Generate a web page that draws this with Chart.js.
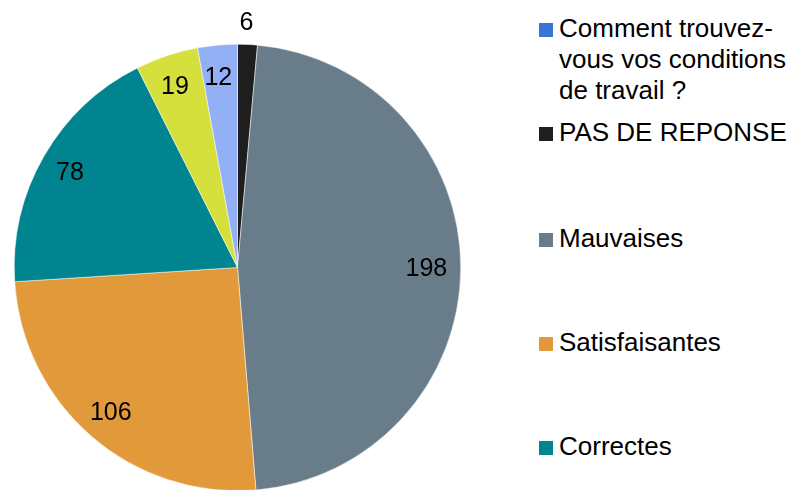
<!DOCTYPE html>
<html>
<head>
<meta charset="utf-8">
<script src="https://cdn.jsdelivr.net/npm/chart.js@4"></script>
<style>
  html, body { margin: 0; padding: 0; background: #fff; }
  body { width: 798px; height: 490px; overflow: hidden; position: relative; font-family: "Liberation Sans", Arial, sans-serif; }
  #wrap { position: absolute; left: 0; top: 0; width: 475px; height: 491px; }
  #legend { position: absolute; left: 0; top: 0; }
  .item { position: absolute; left: 559px; width: 235px; font-size: 26px; line-height: 31px; color: #000; }
  .box { position: absolute; left: -20px; width: 14px; height: 14px; }
</style>
</head>
<body>
<div id="wrap"><canvas id="graph"></canvas></div>
<div id="legend"></div>
<script>
// categories, clockwise from the top
const labels = [
    "Comment trouvez-vous vos conditions de travail ?",
    "PAS DE REPONSE",
    "Mauvaises",
    "Satisfaisantes",
    "Correctes",
    "Bonnes",
    "Très bonnes"
];
const values = [0, 6, 198, 106, 78, 19, 12];
const colors = ["#3b74d8", "#1e1e1e", "#687d89", "#e2993a", "#00848f", "#d5e03c", "#93aff5"];

// legend text lines and where each entry sits (only the ones visible)
const legendLines = [
    ["Comment trouvez-", "vous vos conditions", "de travail ?"],
    ["PAS DE REPONSE"],
    ["Mauvaises"],
    ["Satisfaisantes"],
    ["Correctes"]
];
const legendTops = [13, 117, 223, 327, 431];

// draws the value of each slice, like excel "best fit"
const sliceLabels = {
    id: "sliceLabels",
    afterDatasetsDraw(chart) {
        const ctx = chart.ctx;
        const data = chart.data.datasets[0].data;
        const total = data.reduce((a, b) => a + b, 0);
        ctx.save();
        ctx.font = "25px 'Liberation Sans', Arial, sans-serif";
        ctx.fillStyle = "#000";
        ctx.textAlign = "center";
        ctx.textBaseline = "middle";
        chart.getDatasetMeta(0).data.forEach((arc, i) => {
            if (!data[i]) return;
            const p = arc.getProps(["x", "y", "startAngle", "endAngle", "outerRadius"], true);
            const mid = (p.startAngle + p.endAngle) / 2;
            const f = data[i] / total < 0.02 ? 1.10 : 0.855;
            ctx.fillText(String(data[i]), p.x + Math.cos(mid) * p.outerRadius * f - 2, p.y + Math.sin(mid) * p.outerRadius * f + 1);
        });
        ctx.restore();
    }
};

new Chart(document.getElementById("graph").getContext("2d"), {
    type: "pie",
    data: {
        labels: labels,
        datasets: [{
            data: values,
            backgroundColor: colors,
            borderColor: "#ffffff",
            borderWidth: 0.5,
            hoverOffset: 0
        }]
    },
    options: {
        responsive: true,
        maintainAspectRatio: false,
        animation: false,
        layout: { padding: { left: 14, top: 44, right: 14, bottom: 0 } },
        plugins: {
            legend: { display: false },
            tooltip: { enabled: false }
        }
    },
    plugins: [sliceLabels]
});

const legend = document.getElementById("legend");
legendLines.forEach((lines, i) => {
    const item = document.createElement("div");
    item.className = "item";
    item.style.top = legendTops[i] + "px";
    item.innerHTML = lines.join("<br>");
    const box = document.createElement("span");
    box.className = "box";
    box.style.top = "10px";
    box.style.background = colors[i];
    item.appendChild(box);
    legend.appendChild(item);
});
</script>
</body>
</html>
